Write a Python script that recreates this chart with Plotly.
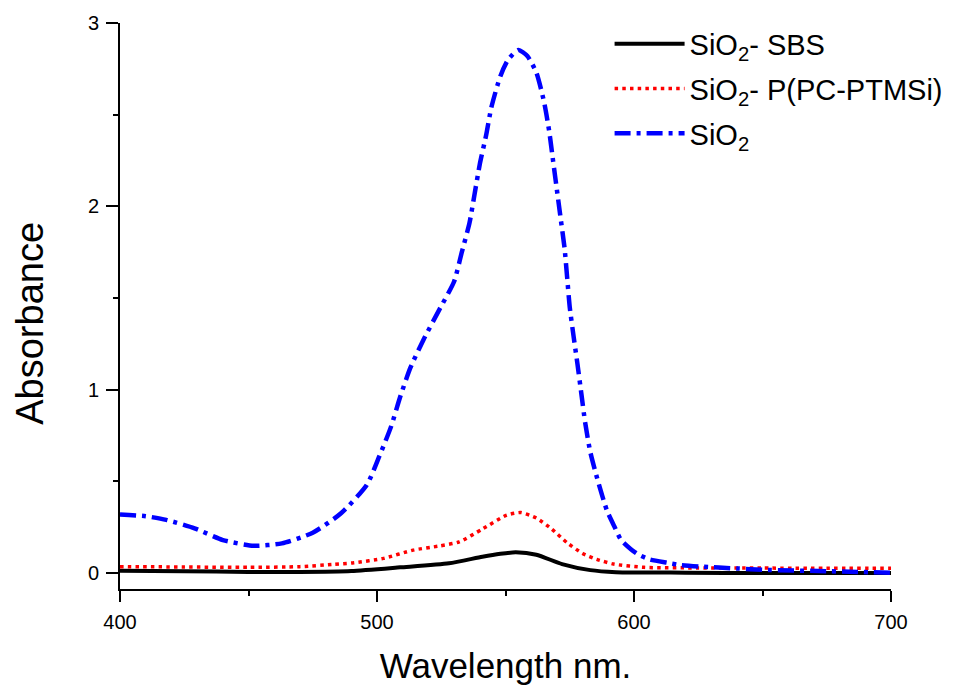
import plotly.graph_objects as go

# ---- data ----
blue_x = [400, 410, 418, 429, 440, 452, 463, 475, 486, 496, 501, 505.5, 509, 513, 518, 524,
          530, 533, 536, 538, 540, 542.5, 544.5, 548, 551, 555, 558.5, 562, 565, 567, 568.5,
          570, 571.5, 573, 574, 575, 576.5, 578, 579.5, 581, 583, 586, 589.5, 592.5, 595,
          601, 606, 613, 618, 626, 640, 650, 675, 700]
blue_y = [0.32, 0.31, 0.29, 0.244, 0.18, 0.149, 0.162, 0.22, 0.326, 0.48, 0.64, 0.80, 0.96,
          1.12, 1.27, 1.43, 1.59, 1.75, 1.91, 2.07, 2.23, 2.39, 2.54, 2.71, 2.80, 2.853, 2.82,
          2.73, 2.57, 2.41, 2.25, 2.09, 1.93, 1.77, 1.61, 1.45, 1.29, 1.14, 0.98, 0.82, 0.66,
          0.50, 0.34, 0.25, 0.18, 0.107, 0.075, 0.056, 0.044, 0.035, 0.025, 0.018, 0.010, 0.002]

red_x = [400, 425, 450, 470, 483, 491, 502.5, 514, 524, 532, 541, 550.5, 556, 562, 568, 574,
         580, 585.5, 592, 604, 625, 650, 700]
red_y = [0.035, 0.033, 0.031, 0.035, 0.047, 0.056, 0.08, 0.125, 0.147, 0.17, 0.24, 0.316,
         0.33, 0.30, 0.24, 0.165, 0.107, 0.075, 0.049, 0.031, 0.028, 0.027, 0.026]

black_x = [400, 425, 450, 470, 490, 509, 528, 541, 548, 554, 562, 572, 583, 593, 620, 650, 700]
black_y = [0.012, 0.010, 0.006, 0.006, 0.011, 0.031, 0.053, 0.089, 0.105, 0.113, 0.100,
           0.049, 0.016, 0.005, 0.002, 0.0, 0.0]

names = ["SiO<sub>2</sub>- SBS", "SiO<sub>2</sub>- P(PC-PTMSi)", "SiO<sub>2</sub>"]
x_ticks = [400, 500, 600, 700]
y_ticks = [0, 1, 2, 3]

FONT = "Arial, 'Liberation Sans', sans-serif"

fig = go.Figure()
fig.add_trace(go.Scatter(x=black_x, y=black_y, mode="lines", name=names[0], legendgroup="a",
                         line=dict(color="black", width=4, shape="spline", smoothing=0.6)))
fig.add_trace(go.Scatter(x=red_x, y=red_y, mode="lines", name=names[1], legendgroup="b",
                         line=dict(color="#ff0000", width=3.5, dash="3.5px,4.2px",
                                   shape="spline", smoothing=0.6)))
fig.add_trace(go.Scatter(x=blue_x, y=blue_y, mode="lines", name=names[2], legendgroup="c",
                         line=dict(color="#0000ff", width=4.5, dash="16px,6px,4px,6px",
                                   shape="spline", smoothing=0.6)))

# page body adds an 8px offset, so the figure is 8px smaller than the window
fig.update_layout(
    width=947, height=677,
    margin=dict(l=112, r=64, t=15, b=96, autoexpand=False),
    paper_bgcolor="white", plot_bgcolor="white",
    font=dict(family=FONT, color="black"),
    showlegend=True,
    legend=dict(x=0.635, y=1.008, xanchor="left", yanchor="top",
                font=dict(size=29, family=FONT), bgcolor="rgba(0,0,0,0)",
                tracegroupgap=4, itemwidth=70),
    annotations=[dict(text="Absorbance", xref="paper", yref="paper",
                      x=-0.117, y=0.47, xanchor="center", yanchor="middle",
                      textangle=-90, showarrow=False, font=dict(size=38, family=FONT))],
)
fig.update_xaxes(range=[400, 700], tickvals=x_ticks, ticktext=[str(v) for v in x_ticks],
                 automargin=False,
                 showline=True, linecolor="black", linewidth=2, mirror=False,
                 ticks="outside", ticklen=11, tickwidth=2, tickcolor="black",
                 tickfont=dict(size=20, family=FONT), showgrid=False, zeroline=False,
                 ticklabelstandoff=3,
                 minor=dict(tickvals=[450, 550, 650], ticks="outside", ticklen=5,
                            tickwidth=2, tickcolor="black", showgrid=False),
                 title=dict(text="Wavelength nm.", font=dict(size=35, family=FONT), standoff=24))
fig.update_yaxes(range=[-0.087, 3.0], tickvals=y_ticks, ticktext=[str(v) for v in y_ticks],
                 automargin=False,
                 showline=True, linecolor="black", linewidth=2, mirror=False,
                 ticks="outside", ticklen=12, tickwidth=2, tickcolor="black",
                 tickfont=dict(size=20, family=FONT), showgrid=False, zeroline=False,
                 minor=dict(tickvals=[0.5, 1.5, 2.5], ticks="outside", ticklen=5,
                            tickwidth=2, tickcolor="black", showgrid=False),
                 ticklabelstandoff=3)

fig.write_html("out.html")
